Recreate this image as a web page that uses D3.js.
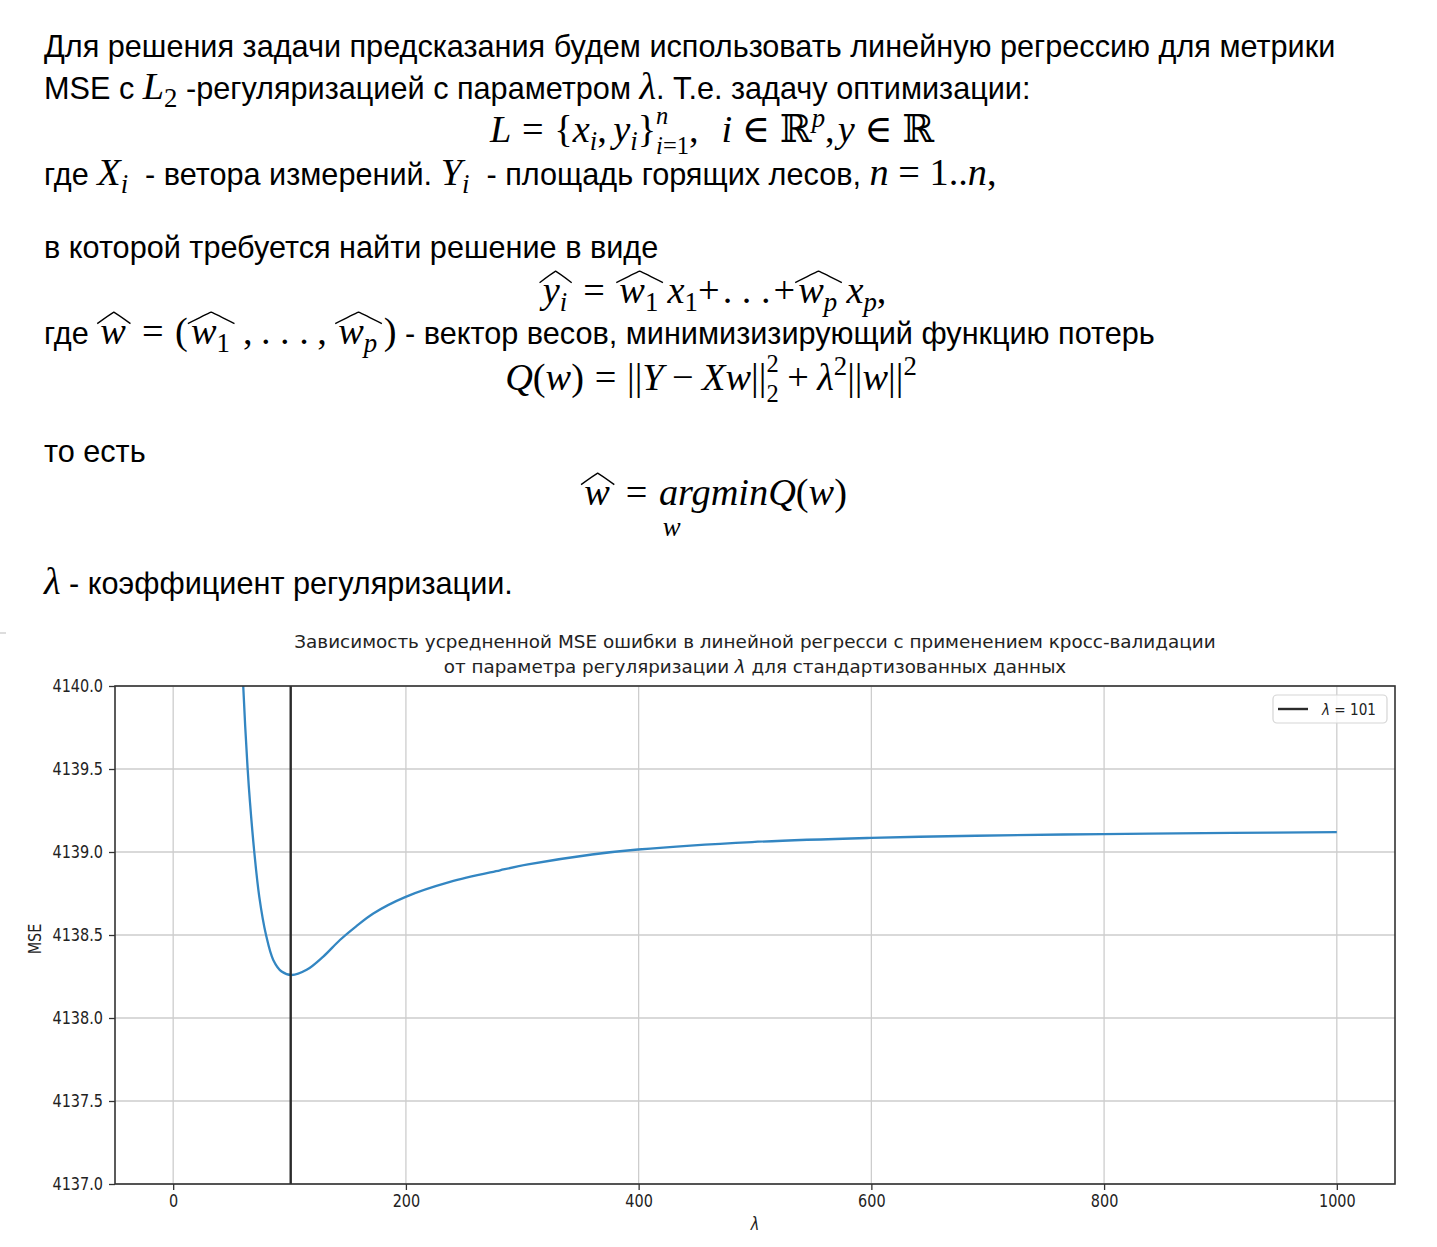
<!DOCTYPE html>
<html><head><meta charset="utf-8">
<script src="https://cdn.jsdelivr.net/npm/d3@7"></script>
<style>body{margin:0;background:#fff} svg{display:block}</style>
</head><body>
<svg id="c" width="1437" height="1247"></svg>
<script>
// ---------------- data ----------------
const lambdaValues = [50, 55, 60.2, 64.0, 66.0, 69.7, 74.0, 79.8, 86.0, 93.2, 101.8, 114.7, 129.0, 143.3, 157.0, 172.0, 199.8, 237.9, 280.9, 304.9, 359.9, 399.5, 497.4, 599.6, 689.8, 799.1, 909.9, 1000];
const mseValues    = [4142.5, 4141.0, 4140.0, 4139.5, 4139.3, 4139.0, 4138.73, 4138.5, 4138.35, 4138.28, 4138.259, 4138.29, 4138.37, 4138.47, 4138.551, 4138.63, 4138.73, 4138.82, 4138.89, 4138.925, 4138.985, 4139.015, 4139.06, 4139.085, 4139.098, 4139.108, 4139.115, 4139.12];
const bestLambda = 101;
const xTicks = [0, 200, 400, 600, 800, 1000];
const yTicks = [4137.0, 4137.5, 4138.0, 4138.5, 4139.0, 4139.5, 4140.0];
const xDomain = [-50, 1050];
const yDomain = [4137, 4140];
const titleLine1 = "Зависимость усредненной MSE ошибки в линейной регресси с применением кросс-валидации";
const titleLine2 = ["от параметра регуляризации ", "λ", " для стандартизованных данных"];
const yLabel = "MSE";
const xLabel = "λ";
const legendLabel = ["λ", " = 101"];

// ---------------- text block ----------------
const svg = d3.select('#c');
const SANS = '"Liberation Sans", Arial, Helvetica, sans-serif';
const SERIF = '"Liberation Serif", "Times New Roman", "DejaVu Serif", serif';
const MPL = '"DejaVu Sans", sans-serif';

const line1 = "Для решения задачи предсказания будем использовать линейную регрессию для метрики";
const probe = svg.append('text').attr('font-family', SANS).attr('font-size', 100).text(line1);
const w100 = probe.node().getComputedTextLength(); probe.remove();
const S = 100 * 1292 / w100;
const M = S * 1.25;

function flow(segs, opts) {
  const g = svg.append('g');
  let cx = 0;
  function textAt(parts, xx, yy, fam, size, ital) {
    const t = g.append('text').attr('x', xx).attr('y', yy).attr('font-family', fam)
      .attr('font-size', size).attr('fill', '#000').style('white-space', 'pre');
    if (typeof parts === 'string') {
      t.attr('font-style', ital ? 'italic' : 'normal').text(parts);
    } else {
      parts.forEach(p => t.append('tspan').attr('font-style', p[1] ? 'italic' : 'normal').text(p[0]));
    }
    return t.node().getComputedTextLength();
  }
  function hat(x0, x1) {
    const mid = (x0 + x1) / 2;
    g.append('path').attr('d', `M${x0},${-0.53*M} Q${mid - 0.1*(x1-x0)},${-0.78*M} ${mid},${-0.83*M} Q${mid + 0.1*(x1-x0)},${-0.78*M} ${x1},${-0.53*M}`)
      .attr('fill', 'none').attr('stroke', '#000').attr('stroke-width', 1.4);
  }
  function run(list) {
    list.forEach(s => {
      switch (s.k) {
        case 's': cx += textAt(s.t, cx, 0, SANS, S, false); break;
        case 'm': cx += textAt(s.t, cx, 0, SERIF, M, true); break;
        case 'r': cx += textAt(s.t, cx, 0, SERIF, M, false); break;
        case 'sub': cx += textAt(s.t, cx, 0.22 * M, SERIF, 0.7 * M, s.i); break;
        case 'sup': cx += textAt(s.t, cx, -0.38 * M, SERIF, 0.7 * M, s.i); break;
        case 'ss': {
          const a = textAt(s.sup, cx, -0.46 * M, SERIF, 0.64 * M, s.i);
          const b = textAt(s.sub, cx, 0.3 * M, SERIF, 0.64 * M, s.i);
          cx += Math.max(a, b); break;
        }
        case 'gap': cx += s.w * M; break;
        case 'hat': {
          const x0 = cx; cx += 0.08 * M; run(s.c); cx += 0.12 * M;
          hat(x0, cx); break;
        }
        case 'under': {
          const x0 = cx;
          cx += textAt(s.t, cx, 0, SERIF, M, true);
          textAt(s.u, x0 + s.dx * M, 0.8 * M, SERIF, 0.7 * M, true);
          break;
        }
      }
    });
  }
  run(segs);
  const tx = opts.cx !== undefined ? opts.cx - cx / 2 : opts.x;
  g.attr('transform', `translate(${tx},${opts.y})`);
}
const gap = w => ({k: 'gap', w});
const R_ = t => ({k: 'r', t});
const I_ = t => ({k: 'm', t});

flow([{k:'s', t: line1}], {x: 44, y: 57});
flow([{k:'s',t:'MSE с '},I_('L'),{k:'sub',t:'2'},{k:'s',t:' -регуляризацией с параметром '},I_('λ'),{k:'s',t:'. Т.е. задачу оптимизации:'}], {x: 44, y: 99});
flow([I_('L'),gap(0.28),R_('='),gap(0.28),R_('{'),I_('x'),{k:'sub',t:'i',i:1},R_(','),gap(0.17),I_('y'),{k:'sub',t:'i',i:1},R_('}'),
      {k:'ss',sup:[['n',1]],sub:[['i',1],['=1',0]]},R_(','),gap(0.6),I_('i'),gap(0.25),R_('∈'),gap(0.25),R_('ℝ'),{k:'sup',t:'p',i:1},R_(','),gap(0.08),I_('y'),gap(0.25),R_('∈'),gap(0.25),R_('ℝ')], {cx: 712, y: 142});
flow([{k:'s',t:'где '},I_('X'),{k:'sub',t:'i',i:1},{k:'s',t:'  - ветора измерений. '},I_('Y'),{k:'sub',t:'i',i:1},{k:'s',t:'  - площадь горящих лесов, '},I_('n'),gap(0.25),R_('='),gap(0.25),R_('1..'),I_('n'),R_(',')], {x: 44, y: 185});
flow([{k:'s',t:'в которой требуется найти решение в виде'}], {x: 44, y: 258});
flow([{k:'hat',c:[I_('y'),{k:'sub',t:'i',i:1}]},gap(0.3),R_('='),gap(0.3),{k:'hat',c:[I_('w'),{k:'sub',t:'1'}]},gap(0.12),I_('x'),{k:'sub',t:'1'},R_('+'),gap(0.08),R_('. . .'),gap(0.08),R_('+'),
      {k:'hat',c:[I_('w'),{k:'sub',t:'p',i:1}]},gap(0.12),I_('x'),{k:'sub',t:'p',i:1},R_(',')], {cx: 713, y: 303});
flow([{k:'s',t:'где '},{k:'hat',c:[I_('w')]},gap(0.3),R_('='),gap(0.3),R_('('),{k:'hat',c:[I_('w'),{k:'sub',t:'1'}]},gap(0.22),R_(','),gap(0.22),R_('. . .'),gap(0.22),R_(','),gap(0.22),
      {k:'hat',c:[I_('w'),{k:'sub',t:'p',i:1}]},gap(0.05),R_(')'),{k:'s',t:' - вектор весов, минимизизирующий функцию потерь'}], {x: 44, y: 344});
flow([I_('Q'),R_('('),I_('w'),R_(')'),gap(0.28),R_('='),gap(0.28),R_('||'),I_('Y'),gap(0.22),R_('−'),gap(0.22),I_('Xw'),R_('||'),{k:'ss',sup:'2',sub:'2'},gap(0.22),R_('+'),gap(0.22),I_('λ'),{k:'sup',t:'2'},R_('||'),I_('w'),R_('||'),{k:'sup',t:'2'}], {cx: 711, y: 390});
flow([{k:'s',t:'то есть'}], {x: 44, y: 462});
flow([{k:'hat',c:[I_('w')]},gap(0.3),R_('='),gap(0.3),{k:'under',t:'argminQ',u:'w',dx:0.1},R_('('),I_('w'),R_(')')], {cx: 714, y: 505});
flow([I_('λ'),{k:'s',t:' - коэффициент регуляризации.'}], {x: 44, y: 594});

// small mark at left edge
svg.append('line').attr('x1', 0).attr('x2', 6).attr('y1', 633).attr('y2', 633).attr('stroke', '#bbb').attr('stroke-width', 1);

// ---------------- chart ----------------
const L = 115, R = 1395, T = 686, B = 1184;
const x = d3.scaleLinear().domain(xDomain).range([L, R]);
const y = d3.scaleLinear().domain(yDomain).range([B, T]);
const SX = 0.85;

// grid
const grid = svg.append('g');
grid.selectAll('line.v').data(xTicks).join('line').attr('class', 'v')
  .attr('x1', d => x(d)).attr('x2', d => x(d)).attr('y1', T).attr('y2', B)
  .attr('stroke', '#cdcdcd').attr('stroke-width', 1.3);
grid.selectAll('line.h').data(yTicks).join('line').attr('class', 'h')
  .attr('x1', L).attr('x2', R).attr('y1', d => y(d)).attr('y2', d => y(d))
  .attr('stroke', '#cdcdcd').attr('stroke-width', 1.3);

// clip
svg.append('clipPath').attr('id', 'clip').append('rect').attr('x', L).attr('y', T).attr('width', R - L).attr('height', B - T);

const pts = lambdaValues.map((l, i) => [l, mseValues[i]]);
svg.append('path').datum(pts).attr('clip-path', 'url(#clip)')
  .attr('d', d3.line().x(d => x(d[0])).y(d => y(d[1])).curve(d3.curveCatmullRom.alpha(0.5)))
  .attr('fill', 'none').attr('stroke', '#3386c2').attr('stroke-width', 2.3);

svg.append('line').attr('x1', x(bestLambda)).attr('x2', x(bestLambda)).attr('y1', T).attr('y2', B)
  .attr('stroke', '#2b2b2b').attr('stroke-width', 2.4);

// axes
const xAxis = svg.append('g').attr('transform', `translate(0,${B})`)
  .call(d3.axisBottom(x).tickValues(xTicks).tickFormat(d3.format('d')).tickSize(6).tickSizeOuter(0));
const yAxis = svg.append('g').attr('transform', `translate(${L},0)`)
  .call(d3.axisLeft(y).tickValues(yTicks).tickFormat(d3.format('.1f')).tickSize(6).tickSizeOuter(0));
[xAxis, yAxis].forEach(a => {
  a.select('.domain').remove();
  a.selectAll('.tick line').attr('stroke', '#333').attr('stroke-width', 1.3);
  a.selectAll('.tick text').attr('font-family', MPL).attr('font-size', 17).attr('fill', '#222');
});
xAxis.selectAll('.tick text').attr('y', 0).attr('dy', 0)
  .attr('transform', `translate(0,23) scale(${SX},1)`);
yAxis.selectAll('.tick text').attr('x', 0).attr('dy', '0.35em')
  .attr('transform', `translate(-12,0) scale(${SX},1)`);

svg.append('rect').attr('x', L).attr('y', T).attr('width', R - L).attr('height', B - T)
  .attr('fill', 'none').attr('stroke', '#333').attr('stroke-width', 1.6);

// labels
svg.append('text').attr('font-family', MPL).attr('font-size', 17).attr('fill', '#222')
  .attr('text-anchor', 'middle').attr('transform', `translate(41,939) rotate(-90) scale(${SX},1)`).text(yLabel);
svg.append('text').attr('font-family', MPL).attr('font-size', 17).attr('fill', '#222').attr('font-style', 'italic')
  .attr('text-anchor', 'middle').attr('transform', `translate(${(L + R) / 2},1230) scale(${SX},1)`).text(xLabel);

// title
function scaledTitle(parts, cx, yy, width) {
  const t = svg.append('text').attr('font-family', MPL).attr('font-size', 18.5).attr('fill', '#222')
    .attr('text-anchor', 'middle').style('white-space', 'pre');
  parts.forEach(p => t.append('tspan').attr('font-style', p === 'λ' ? 'italic' : 'normal').text(p));
  const w = t.node().getComputedTextLength();
  t.attr('transform', `translate(${cx},${yy}) scale(${width / w},1)`);
}
scaledTitle([titleLine1], (L + R) / 2, 648, 922);
scaledTitle(titleLine2, (L + R) / 2, 673, 623);

// legend
const lg = svg.append('g');
lg.append('rect').attr('x', 1273).attr('y', 695).attr('width', 114).attr('height', 28).attr('rx', 4)
  .attr('fill', '#fff').attr('fill-opacity', 0.8).attr('stroke', '#d5d5d5').attr('stroke-width', 1.2);
lg.append('line').attr('x1', 1278).attr('x2', 1308).attr('y1', 709).attr('y2', 709)
  .attr('stroke', '#2b2b2b').attr('stroke-width', 2.4);
const lt = lg.append('text').attr('font-family', MPL).attr('font-size', 16).attr('fill', '#222')
  .attr('transform', `translate(1322,715) scale(${SX},1)`).style('white-space', 'pre');
lt.append('tspan').attr('font-style', 'italic').text(legendLabel[0]);
lt.append('tspan').text(legendLabel[1]);
</script>
</body></html>
